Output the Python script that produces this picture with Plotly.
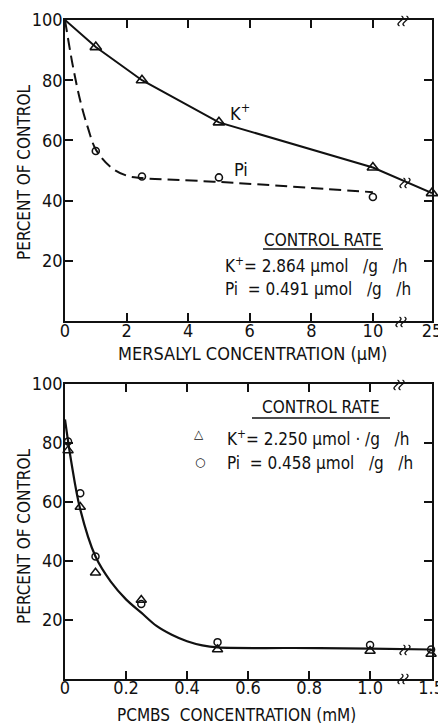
import plotly.graph_objects as go

# ---- Mersalyl (top panel) ----
mers_k_conc = [1, 2.5, 5, 10, 25]
mers_k = [91, 80, 66, 51, 42.5]
mers_pi_conc = [1, 2.5, 5, 10]
mers_pi = [56.5, 48, 47.7, 41.2]
# control value at zero inhibitor
control = 100
# smooth fitted Pi curve (dashed)
mers_pi_fit_x = [0, 0.25, 0.5, 0.75, 1, 1.5, 2, 2.5, 5, 10]
mers_pi_fit_y = [100, 85, 73, 64, 57, 51, 48.3, 47.5, 46.2, 42.8]

# ---- PCMBS (bottom panel) ----
pcmbs_conc = [0.01, 0.05, 0.1, 0.25, 0.5, 1.0, 1.5]
pcmbs_k = [77.5, 58.3, 36, 26.8, 10, 9.5, 8.5]
pcmbs_pi = [80.5, 63, 41.5, 25.4, 12.5, 11.5, 10]
pcmbs_fit_x = [0, 0.02, 0.05, 0.1, 0.15, 0.2, 0.25, 0.3, 0.35, 0.4, 0.45, 0.5, 0.75, 1.0, 1.5]
pcmbs_fit_y = [88, 74, 57.5, 41.5, 33, 27, 22.5, 18, 15, 12.8, 11.4, 10.7, 10.5, 10.3, 10]

top_ticks = [0, 2, 4, 6, 8, 10, 25]
bot_ticks = [0, 0.2, 0.4, 0.6, 0.8, 1.0, 1.5]
bot_tick_text = ["0", "0.2", "0.4", "0.6", "0.8", "1.0", "1.5"]
y_ticks = [20, 40, 60, 80, 100]

# broken x axes: values past the break sit in a short slot at the right end
TOP_BREAK, TOP_SLOT = 10, {25: 11.92}
BOT_BREAK, BOT_SLOT = 1.0, {1.5: 1.2}


def top_pos(vals):
    return [v if v <= TOP_BREAK else TOP_SLOT[v] for v in vals]


def bot_pos(vals):
    return [v if v <= BOT_BREAK else BOT_SLOT[v] for v in vals]


W, H = 438, 724
L, R, T, B = 65, 432, 20, 679


def px(x):
    return (x - L) / (R - L)


def py(y):
    return (B - y) / (B - T)


FONT = "DejaVu Sans Condensed, DejaVu Sans, sans-serif"
BLACK = "#111111"

fig = go.Figure()

# top panel
fig.add_trace(go.Scatter(x=top_pos([0] + mers_k_conc), y=[control] + mers_k, mode="lines",
                         line=dict(color=BLACK, width=2), xaxis="x", yaxis="y",
                         cliponaxis=False, showlegend=False))
fig.add_trace(go.Scatter(x=top_pos(mers_k_conc), y=mers_k, mode="markers",
                         marker=dict(symbol="triangle-up-open", size=10, color=BLACK,
                                     line=dict(width=1.6, color=BLACK)),
                         xaxis="x", yaxis="y", cliponaxis=False, showlegend=False))
fig.add_trace(go.Scatter(x=top_pos(mers_pi_fit_x), y=mers_pi_fit_y, mode="lines",
                         line=dict(color=BLACK, width=2, dash="12px,6px", shape="spline"),
                         xaxis="x", yaxis="y", showlegend=False))
fig.add_trace(go.Scatter(x=top_pos(mers_pi_conc), y=mers_pi, mode="markers",
                         marker=dict(symbol="circle-open", size=7, color=BLACK,
                                     line=dict(width=1.6, color=BLACK)),
                         xaxis="x", yaxis="y", cliponaxis=False, showlegend=False))

# bottom panel
fig.add_trace(go.Scatter(x=bot_pos(pcmbs_fit_x), y=pcmbs_fit_y, mode="lines",
                         line=dict(color=BLACK, width=2.2, shape="spline"),
                         xaxis="x2", yaxis="y2", cliponaxis=False, showlegend=False))
fig.add_trace(go.Scatter(x=bot_pos(pcmbs_conc), y=pcmbs_k, mode="markers",
                         marker=dict(symbol="triangle-up-open", size=9, color=BLACK,
                                     line=dict(width=1.5, color=BLACK)),
                         xaxis="x2", yaxis="y2", cliponaxis=False, showlegend=False))
fig.add_trace(go.Scatter(x=bot_pos(pcmbs_conc), y=pcmbs_pi, mode="markers",
                         marker=dict(symbol="circle-open", size=7, color=BLACK,
                                     line=dict(width=1.5, color=BLACK)),
                         xaxis="x2", yaxis="y2", cliponaxis=False, showlegend=False))

axis_common = dict(showline=True, linecolor=BLACK, linewidth=1.6, mirror="ticks",
                   ticks="inside", ticklen=8, tickwidth=1.6, tickcolor=BLACK,
                   showgrid=False, zeroline=False, ticklabeloverflow="allow",
                   automargin=False,
                   tickfont=dict(family=FONT, size=18, color=BLACK))

fig.update_layout(
    width=W, height=H,
    margin=dict(l=L, r=W - R, t=T, b=H - B, autoexpand=False),
    paper_bgcolor="white", plot_bgcolor="white",
    xaxis=dict(domain=[0, 1], range=[0, 11.92], tickvals=top_pos(top_ticks),
               ticktext=[str(t) for t in top_ticks], anchor="y", ticklabelstandoff=-7,
               **axis_common),
    yaxis=dict(domain=[py(321), 1], range=[0, 100], tickvals=y_ticks, anchor="x",
               ticklabelstandoff=-3, **axis_common),
    xaxis2=dict(domain=[0, 1], range=[0, 1.203], tickvals=bot_pos(bot_ticks),
                ticktext=bot_tick_text, anchor="y2", ticklabelstandoff=-8, **axis_common),
    yaxis2=dict(domain=[0, py(384)], range=[0, 100], tickvals=y_ticks, anchor="x2",
                ticklabelstandoff=-3, **axis_common),
)

ann = []


def text(x, y, s, size=17, xanchor="center", angle=0, family=FONT):
    ann.append(dict(x=px(x), y=py(y), xref="paper", yref="paper", text=s,
                    showarrow=False, xanchor=xanchor, yanchor="middle",
                    textangle=angle, font=dict(family=family, size=size, color=BLACK)))


NB = "\u00a0"
# axis titles
text(24, 173, "PERCENT OF CONTROL", size=17, angle=-90)
text(24, 537, "PERCENT OF CONTROL", size=17, angle=-90)
text(252, 353, "MERSALYL CONCENTRATION (\u00b5M)", size=18)
text(236, 715, "PCMBS" + NB * 2 + "CONCENTRATION (mM)", size=17)

# curve labels
text(228, 112, "K<sup>+</sup>", size=18, xanchor="left")
text(232, 170, "Pi", size=18, xanchor="left")

# control rate boxes
text(323, 240, "CONTROL RATE", size=17)
text(223, 265, "K<sup>+</sup>= 2.864 \u00b5mol" + NB * 3 + "/g" + NB * 3 + "/h", size=17, xanchor="left")
text(223, 289, "Pi" + NB * 2 + "= 0.491 \u00b5mol" + NB * 3 + "/g" + NB * 3 + "/h", size=17, xanchor="left")

text(321, 407, "CONTROL RATE", size=17)
text(199, 434, "\u25b3", size=12, family="DejaVu Sans")
text(200, 462, "\u25cb", size=12, family="DejaVu Sans")
text(225, 438, "K<sup>+</sup>= 2.250 \u00b5mol \u00b7 /g" + NB * 2 + " /h", size=17, xanchor="left")
text(225, 463, "Pi" + NB * 2 + "= 0.458 \u00b5mol" + NB * 3 + "/g" + NB * 2 + " /h", size=17, xanchor="left")

fig.update_layout(annotations=ann)

shapes = []
for x0, x1, y in [(263, 383, 249), (252, 390, 418)]:
    shapes.append(dict(type="line", xref="paper", yref="paper", x0=px(x0), x1=px(x1),
                       y0=py(y), y1=py(y), line=dict(color=BLACK, width=1.6)))


def squiggle(cx, cy):
    # one small vertical S stroke centred on (cx, cy), in page pixels
    pts = [(cx - 1, cy + 5), (cx - 7, cy + 2), (cx + 7, cy - 2), (cx + 1, cy - 5)]
    p = [(px(a), py(b)) for a, b in pts]
    return "M {} {} C {} {} {} {} {} {}".format(p[0][0], p[0][1], p[1][0], p[1][1],
                                                 p[2][0], p[2][1], p[3][0], p[3][1])


# axis-break marks
for bx, by in [(403, 21), (401, 322), (399, 385), (403, 679), (405, 183), (405, 650)]:
    for dx in (-2.5, 2.5):
        shapes.append(dict(type="path", xref="paper", yref="paper", path=squiggle(bx + dx, by),
                           line=dict(color=BLACK, width=1.3)))
fig.update_layout(shapes=shapes)

fig.write_html("out.html")
